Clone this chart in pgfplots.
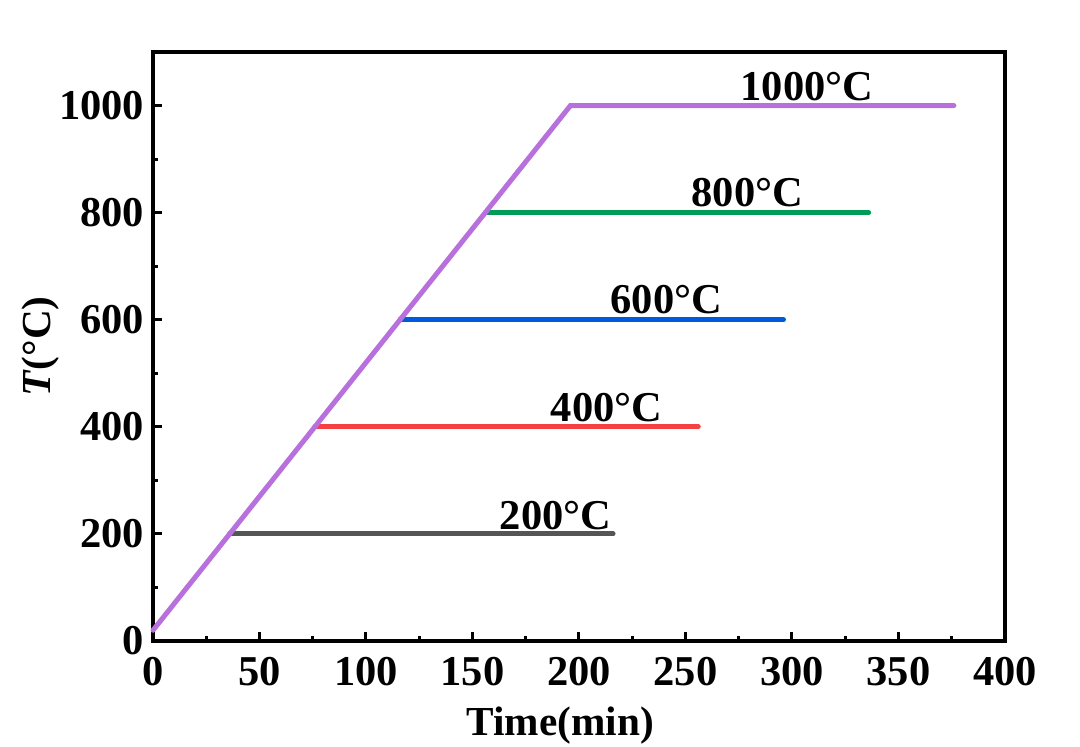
\documentclass[border=0pt]{standalone}
\usepackage{fontspec}
\setmainfont{Liberation Serif}
\usepackage{pgfplots}
\pgfplotsset{compat=1.18}
\definecolor{cpurple}{RGB}{183,112,220}
\definecolor{cgreen}{RGB}{0,155,85}
\definecolor{cblue}{RGB}{0,90,220}
\definecolor{cred}{RGB}{245,65,65}
\definecolor{cgray}{RGB}{85,85,85}
\begin{document}
\begin{tikzpicture}
\begin{axis}[
  scale only axis,
  width=340.8pt, height=235.6pt,
  xmin=0, xmax=400, ymin=0, ymax=1100,
  xtick={0,50,...,400}, ytick={0,200,...,1000},
  minor xtick={25,75,...,375}, minor ytick={100,300,...,900},
  tick align=inside,
  xtick pos=bottom, ytick pos=left,
  major tick length=3.6pt, minor tick length=2pt,
  every tick/.style={black, line width=1.2pt},
  axis line style={line width=1.3pt},
  /pgf/number format/assume math mode=true,
  /pgf/number format/1000 sep={},
  ticklabel style={font=\fontsize{17}{19}\selectfont\bfseries},
  xticklabel style={yshift=-3pt},
  xlabel={Time(min)},
  ylabel={\textit{T}(°C)},
  label style={font=\fontsize{16.5}{18}\selectfont\bfseries},
  xlabel style={yshift=-1.5pt, xshift=-7.5pt},
  ylabel style={yshift=-7pt},
  clip=false,
]
\addplot[cgray, line width=2pt, line cap=round] coordinates {(36,200) (216,200)};
\addplot[cred, line width=2pt, line cap=round] coordinates {(76,400) (256,400)};
\addplot[cblue, line width=2pt, line cap=round] coordinates {(116,600) (296,600)};
\addplot[cgreen, line width=2pt, line cap=round] coordinates {(156,800) (336,800)};
\addplot[cpurple, line width=2pt, line cap=round, line join=miter] coordinates {(0,20) (196,1000) (376,1000)};
\node[font=\fontsize{17}{19}\selectfont\bfseries] at (axis cs:189,235) {200°C};
\node[font=\fontsize{17}{19}\selectfont\bfseries] at (axis cs:213,435) {400°C};
\node[font=\fontsize{17}{19}\selectfont\bfseries] at (axis cs:241,637) {600°C};
\node[font=\fontsize{17}{19}\selectfont\bfseries] at (axis cs:279,838) {800°C};
\node[font=\fontsize{17}{19}\selectfont\bfseries] at (axis cs:307,1035) {1000°C};
\end{axis}
\pgfresetboundingbox
\path[use as bounding box] (-61.2pt,-42.4pt) rectangle (370.8pt,256.4pt);
\end{tikzpicture}
\end{document}
